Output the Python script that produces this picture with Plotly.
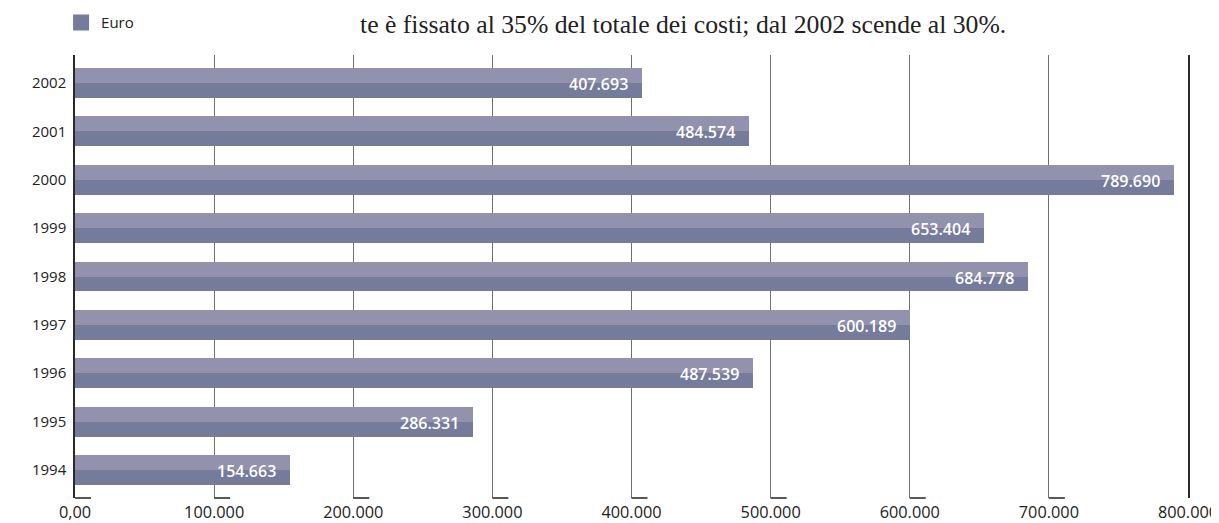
import plotly.graph_objects as go

years = ["1994", "1995", "1996", "1997", "1998", "1999", "2000", "2001", "2002"]
euro = [154663, 286331, 487539, 600189, 684778, 653404, 789690, 484574, 407693]
tick_vals = [0, 100000, 200000, 300000, 400000, 500000, 600000, 700000, 800000]
tick_text = ["0,00", "100.000", "200.000", "300.000", "400.000", "500.000", "600.000", "700.000", "800.000"]
value_labels = [f"{v:,}".replace(",", ".") for v in euro]
note = "te è fissato al 35% del totale dei costi; dal 2002 scende al 30%."

LIGHT = "#9291ae"
DARK = "#747b9b"
FONT = "Open Sans"
BAR_W = 0.62

fig = go.Figure()
# upper (lighter) half of each bar
fig.add_trace(go.Bar(y=years, x=euro, orientation="h", marker=dict(color=LIGHT, line=dict(width=0)),
                     width=BAR_W / 2, offset=0, showlegend=False, hoverinfo="skip"))
# lower (darker) half of each bar
fig.add_trace(go.Bar(y=years, x=euro, orientation="h", marker=dict(color=DARK, line=dict(width=0)),
                     width=BAR_W / 2, offset=-BAR_W / 2, showlegend=False, name="Euro"))
# legend entry
fig.add_trace(go.Scatter(x=[None], y=[None], mode="markers", name="Euro",
                         marker=dict(symbol="square", size=17, color=DARK, line=dict(width=0))))

annotations = []
for i, (v, t) in enumerate(zip(euro, value_labels)):
    annotations.append(dict(x=v, y=i, xref="x", yref="y", text=t, showarrow=False,
                            xanchor="right", yanchor="middle", xshift=-12, yshift=-1,
                            font=dict(family=FONT, size=16, color="white", weight=600)))

annotations.append(dict(x=0.5465, y=1 + 47 / 443, xref="paper", yref="paper", yanchor="top",
                        xanchor="center", showarrow=False, text=note,
                        font=dict(family="Liberation Serif", size=25.7, color="#222222")))

shapes = []
for v in tick_vals:
    shapes.append(dict(type="line", xref="x", yref="paper", xsizemode="pixel", xanchor=v,
                       x0=0, x1=16, y0=0, y1=0, line=dict(color="#222222", width=1.5)))

fig.update_layout(
    width=1219, height=523,
    margin=dict(l=66.5, r=39, t=47, b=33, autoexpand=False),
    paper_bgcolor="white", plot_bgcolor="white",
    barmode="overlay", bargap=0,
    font=dict(family=FONT, size=15, color="#222222"),
    showlegend=True,
    legend=dict(x=-0.0125, y=1.073, xanchor="left", yanchor="middle", orientation="h",
                font=dict(family=FONT, size=15, color="#222222"), itemsizing="trace",
                bgcolor="rgba(0,0,0,0)", tracegroupgap=0, itemwidth=30),
    annotations=annotations,
    shapes=shapes,
    xaxis=dict(range=[0, 800000], tickvals=tick_vals, ticktext=tick_text, showgrid=True,
               gridcolor="#707070", gridwidth=1, zeroline=False, showline=False,
               ticks="", tickfont=dict(family=FONT, size=16.3, color="#222222"),
               ticklabelstandoff=3, automargin=False, fixedrange=True),
    yaxis=dict(range=[-0.58, 8.58], type="category", showgrid=False, zeroline=False,
               showline=True, mirror=True, linecolor="#2a2a2a", linewidth=1.5, ticks="",
               ticklabelstandoff=4, automargin=False,
               tickfont=dict(family=FONT, size=15, color="#222222")),
)

fig.write_html("out.html")
